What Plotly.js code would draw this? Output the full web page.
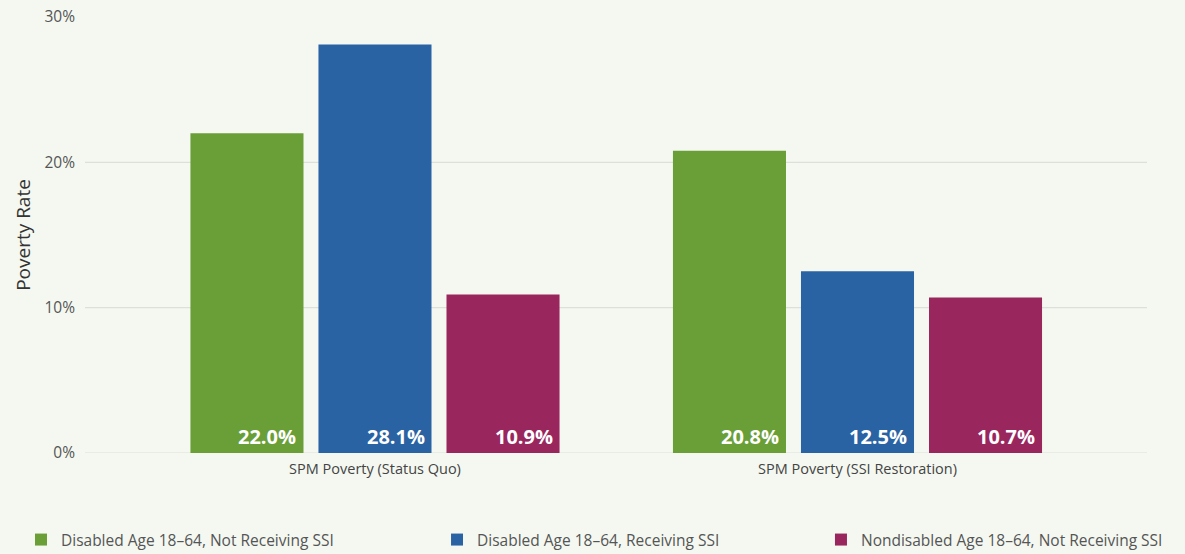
<!DOCTYPE html>
<html>
<head>
<meta charset="utf-8">
<script src="https://cdn.plot.ly/plotly-3.0.1.min.js"></script>
<style>
html,body{margin:0;padding:0;background:#f4f8f1;}
#chart{width:1185px;height:554px;}
</style>
</head>
<body>
<div id="chart"></div>
<script>
const categories = ["SPM Poverty (Status Quo)", "SPM Poverty (SSI Restoration)"];
const seriesNames = [
  "Disabled Age 18–64, Not Receiving SSI",
  "Disabled Age 18–64, Receiving SSI",
  "Nondisabled Age 18–64, Not Receiving SSI"
];
const disabledNotSSI = [22.0, 20.8];
const disabledSSI = [28.1, 12.5];
const nondisabledNotSSI = [10.9, 10.7];
const tickValues = [0, 10, 20, 30];
const tickLabels = ["0%", "10%", "20%", "30%"];

const seriesValues = [disabledNotSSI, disabledSSI, nondisabledNotSSI];
const colors = ["#6a9f37", "#2a63a3", "#99265d"];
const legendIds = ["legend", "legend2", "legend3"];
const legendX = [0.0177, 0.3688, 0.6928];

const FONT = "'Open Sans', 'Noto Sans', sans-serif";

const traces = seriesValues.map((vals, i) => ({
  type: "bar",
  name: seriesNames[i],
  x: categories,
  y: vals,
  marker: {color: colors[i]},
  legend: legendIds[i],
  hoverinfo: "none"
}));

// plot area ~1062px wide, x range spans 2.201 units
const pxPerUnit = 1062 / 2.201;
const slotPx = (1 - 0.204) / 3 * pxPerUnit;
const barPx = slotPx * (1 - 0.117);

const annotations = [];
seriesValues.forEach((vals, i) => {
  vals.forEach((v, j) => {
    annotations.push({
      x: categories[j], y: 0, xref: "x", yref: "y",
      text: "<b>" + v.toFixed(1) + "%</b>",
      showarrow: false, xanchor: "right", yanchor: "bottom",
      xshift: (i - 1) * slotPx + barPx / 2 - 5,
      yshift: 1,
      font: {family: FONT, size: 20, color: "#ffffff"}
    });
  });
});

const shapes = tickValues.slice(0, -1).map(t => ({
  type: "line", xref: "paper", yref: "y", x0: 0, x1: 1, y0: t, y1: t,
  line: {color: "#dcdfda", width: 1.2}, layer: "below"
}));

const legendBase = {
  orientation: "h", xanchor: "left", xref: "container", yref: "container",
  y: 0.0253, yanchor: "middle",
  font: {family: FONT, size: 15.5, color: "#555"}, bgcolor: "rgba(0,0,0,0)"
};

const layout = {
  width: 1185, height: 554,
  paper_bgcolor: "#f4f8f1", plot_bgcolor: "#f4f8f1",
  margin: {l: 85, r: 38, t: 17, b: 101},
  barmode: "group", bargap: 0.204, bargroupgap: 0.117,
  font: {family: FONT, color: "#444"},
  xaxis: {
    type: "category", range: [-0.601, 1.6],
    showgrid: false, zeroline: false, showline: false, ticks: "",
    tickfont: {size: 14.5, color: "#444"}, ticklabelstandoff: 5
  },
  yaxis: {
    range: [0, 30], tickvals: tickValues, ticktext: tickLabels,
    showgrid: false, zeroline: false, showline: false, ticks: "",
    tickfont: {size: 15.5, color: "#555"},
    ticklabelstandoff: 9,
    title: {text: "Poverty Rate", font: {size: 19, color: "#333"}, standoff: 8}
  },
  showlegend: true,
  legend: Object.assign({}, legendBase, {x: legendX[0]}),
  legend2: Object.assign({}, legendBase, {x: legendX[1]}),
  legend3: Object.assign({}, legendBase, {x: legendX[2]}),
  shapes: shapes,
  annotations: annotations
};

Plotly.newPlot("chart", traces, layout, {displayModeBar: false, staticPlot: true});
</script>
</body>
</html>
